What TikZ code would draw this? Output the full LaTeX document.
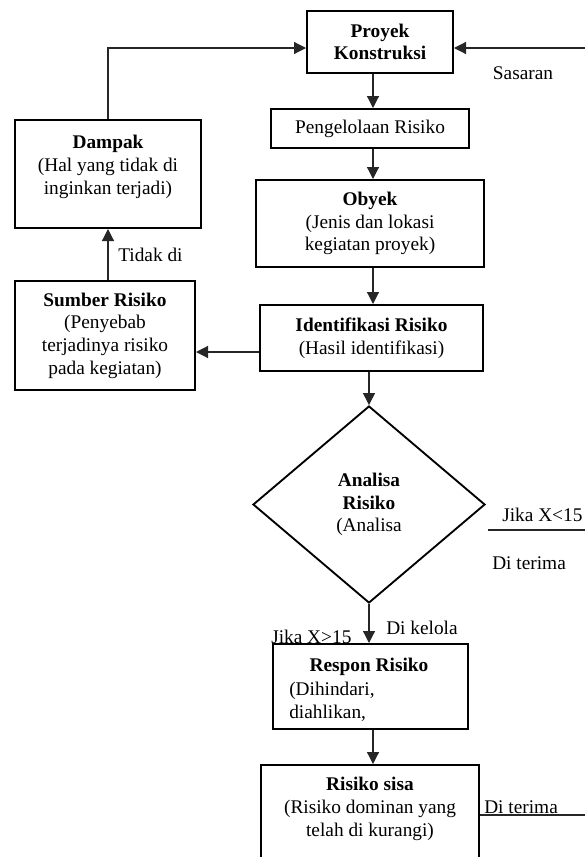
\documentclass[tikz,border=0pt]{standalone}
\usepackage{fontspec}
\setmainfont{Liberation Serif}
\usetikzlibrary{shapes.geometric,arrows.meta}
\newcommand\diagtxt{\fontsize{14.5}{17}\selectfont}
\begin{document}
\begin{tikzpicture}[x=0.75pt,y=-0.75pt,
  box/.style={draw,line width=1.5pt,inner sep=0pt,align=center,font=\diagtxt},
  txt/.style={inner sep=0pt,align=center,font=\diagtxt},
  lbl/.style={inner sep=0pt,font=\diagtxt},
  conn/.style={line width=0.9pt,draw=black!85},
  arr/.style={conn,-{Triangle[length=9pt,width=9pt]}}]
\useasboundingbox (0,0) rectangle (585,857);
\clip (0,0) rectangle (585,857);
% boxes
\node[box,minimum width=146*0.75pt,minimum height=62*0.75pt] (proyek) at (380,42) {\textbf{Proyek}\\\textbf{Konstruksi}};
\node[box,minimum width=198*0.75pt,minimum height=39*0.75pt] (pengelolaan) at (370,128.5) {Pengelolaan Risiko};
\node[box,minimum width=228*0.75pt,minimum height=87*0.75pt] (obyek) at (370,223.5) {\textbf{Obyek}\\(Jenis dan lokasi\\kegiatan proyek)};
\node[box,minimum width=223*0.75pt,minimum height=66*0.75pt] (identifikasi) at (371.5,338) {\textbf{Identifikasi Risiko}\\(Hasil identifikasi)};
\node[box,shape=diamond,line width=1.4pt,minimum width=232*0.75pt,minimum height=197*0.75pt] (analisa) at (369,504.5) {\textbf{Analisa}\\\textbf{Risiko}\\(Analisa};
\node[box,minimum width=195*0.75pt,minimum height=85*0.75pt] (respon) at (370.5,686.5) {};
\node[txt] (respontitle) at (369,667) {\textbf{Respon Risiko}};
\node[txt,anchor=west,align=left] (respontext) at (289,702) {(Dihindari,\\diahlikan,};
\node[box,minimum width=218*0.75pt,minimum height=130*0.75pt] (sisa) at (370,830) {};
\node[txt] (sisatext) at (370,809) {\textbf{Risiko sisa}\\(Risiko dominan yang\\telah di kurangi)};
\node[box,minimum width=180*0.75pt,minimum height=109*0.75pt] (sumber) at (105,335.5) {\textbf{Sumber Risiko}\\(Penyebab\\terjadinya risiko\\pada kegiatan)};
\node[box,minimum width=186*0.75pt,minimum height=108*0.75pt] (dampak) at (108,174) {};
\node[txt] (dampaktext) at (108,167) {\textbf{Dampak}\\(Hal yang tidak di\\inginkan terjadi)};
% labels
\node[lbl] (sasaran) at (523,73) {Sasaran};
\node[lbl,anchor=west] (tidak) at (118,255) {Tidak di};
\node[lbl,anchor=west] (jikakurang) at (502,515) {Jika X<15};
\node[lbl,anchor=west] (diterimaA) at (492,563) {Di terima};
\node[lbl,anchor=west] (dikelola) at (386,628) {Di kelola};
\node[lbl,anchor=west] (jikalebih) at (271,637) {Jika X>15};
\node[lbl,anchor=base west] (diterimaB) at (484,813) {Di terima};
% coordinates
\coordinate (axis) at (373,0);
\coordinate (rtop) at (585,48);
\coordinate (ltop) at (108,48);
\coordinate (sidey) at (0,352);
\coordinate (lineA) at (488,530);
\coordinate (lineB) at (585,530);
\coordinate (rbot) at (585,815);
% connectors
\draw[arr] (rtop) -- (proyek.east |- rtop);
\draw[arr] (dampak.north) -- (ltop) -- (proyek.west |- ltop);
\draw[arr] (proyek.south -| axis) -- (pengelolaan.north -| axis);
\draw[arr] (pengelolaan.south -| axis) -- (obyek.north -| axis);
\draw[arr] (obyek.south -| axis) -- (identifikasi.north -| axis);
\draw[arr] (identifikasi.south -| analisa.north) -- (analisa.north);
\draw[arr] (analisa.south) -- (respon.north -| analisa.south);
\draw[arr] (respon.south -| axis) -- (sisa.north -| axis);
\draw[arr] (identifikasi.west |- sidey) -- (sumber.east |- sidey);
\draw[arr] (sumber.north -| dampak.north) -- (dampak.south);
\draw[conn] (lineA) -- (lineB);
\draw[conn] (sisa.east |- rbot) -- (rbot);
\end{tikzpicture}
\end{document}
